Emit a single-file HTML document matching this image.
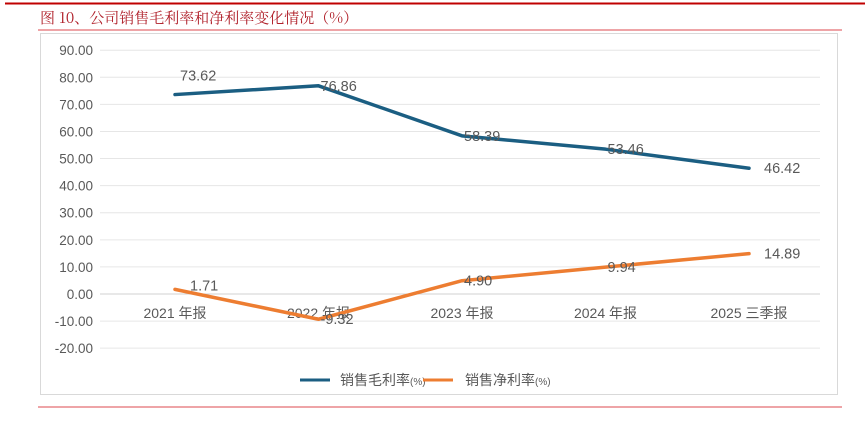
<!DOCTYPE html>
<html><head><meta charset="utf-8"><style>
body{margin:0;background:#fff;}
svg text{font-family:"Liberation Sans","Noto Sans CJK SC",sans-serif;}
</style></head><body>
<svg id="c" width="865" height="416" xmlns="http://www.w3.org/2000/svg">
<line x1="5" y1="3.5" x2="865" y2="3.5" stroke="#c00000" stroke-width="2"/>
<text x="40" y="23" font-size="15" fill="#b0202a" style="font-family:'Noto Serif CJK SC','Liberation Serif',serif">图 10、公司销售毛利率和净利率变化情况（%）</text>
<line x1="38" y1="30" x2="842" y2="30" stroke="#e8868a" stroke-width="1.5"/>
<rect x="40.5" y="33.5" width="797" height="361" fill="#fff" stroke="#d9d9d9"/>
<line x1="38" y1="407" x2="842" y2="407" stroke="#e8868a" stroke-width="1.5"/>
<g id="grid"></g><g id="series"></g>
<g>
<line x1="300" y1="380" x2="330" y2="380" stroke="#1b5e82" stroke-width="3"/>
<text x="340" y="385" font-size="14" fill="#595959">销售毛利率<tspan font-size="10">(%)</tspan></text>
<line x1="423" y1="380" x2="453" y2="380" stroke="#ed7d31" stroke-width="3"/>
<text x="465" y="385" font-size="14" fill="#595959">销售净利率<tspan font-size="10">(%)</tspan></text>
</g>
</svg>
<script>
const categories=["2021 年报","2022 年报","2023 年报","2024 年报","2025 三季报"];
const grossMargin=[73.62,76.86,58.39,53.46,46.42];
const netMargin=[1.71,-9.32,4.90,9.94,14.89];
const yTicks=[90,80,70,60,50,40,30,20,10,0,-10,-20];
const NS="http://www.w3.org/2000/svg";
const y=v=>294-(v)*2.709;
const x=i=>175+i*143.5;
const grid=document.getElementById('grid'),ser=document.getElementById('series');
function mk(t,a,p){const e=document.createElementNS(NS,t);for(const k in a)e.setAttribute(k,a[k]);p.appendChild(e);return e;}
yTicks.forEach(v=>{
 const l=mk('line',{x1:100,x2:820,y1:y(v),y2:y(v),stroke:v===0?'#d0d0d0':'#e6e6e6','stroke-width':1},grid);
 
 
 const t=mk('text',{x:93,y:y(v)+5,'font-size':13.5,fill:'#595959','text-anchor':'end'},grid);
 t.textContent=v.toFixed(2);
 
 
});
categories.forEach((c,i)=>{
 const t=mk('text',{x:x(i),y:318,'font-size':14,fill:'#595959','text-anchor':'middle'},grid);
 t.textContent=c;
 
 
});
function series(vals,color,name,firstAbove){
 const p=mk('polyline',{points:vals.map((v,i)=>x(i)+','+y(v)).join(' '),fill:'none',stroke:color,'stroke-width':3.5,'stroke-linejoin':'round','stroke-linecap':'round'},ser);
 
 
 vals.forEach((v,i)=>{
  let dx=2,dy=5;
  if(i===vals.length-1){dx=15;}
  if(i===0){dx=firstAbove?5:15;dy=firstAbove?-14:1;}
  const t=mk('text',{x:x(i)+dx,y:y(v)+dy,'font-size':14.5,fill:'#595959'},ser);
  t.textContent=v.toFixed(2);
  
  
 });
}
series(grossMargin,'#1b5e82','gross-margin',true);
series(netMargin,'#ed7d31','net-margin',false);
</script>
</body></html>
